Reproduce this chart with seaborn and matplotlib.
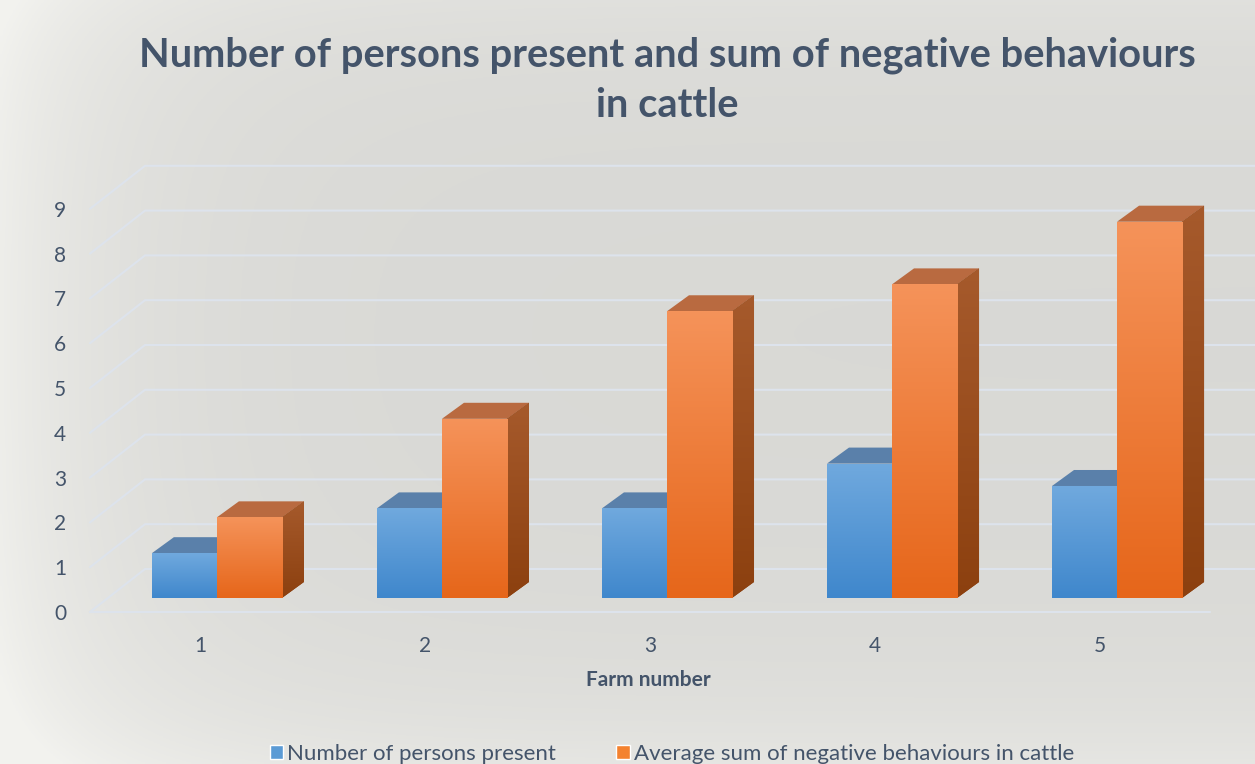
import numpy as np
import pandas as pd
import matplotlib
matplotlib.use("Agg")
import matplotlib.pyplot as plt
import seaborn as sns
from matplotlib.patches import Polygon, Patch
from matplotlib.colors import LinearSegmentedColormap

# ---------------- data ----------------
farms = ["1", "2", "3", "4", "5"]
persons_present = [1, 2, 2, 3, 2.5]
negative_behaviours = [1.8, 4.0, 6.4, 7.0, 8.4]
series_names = ["Number of persons present",
                "Average sum of negative behaviours in cattle"]
y_tick_values = list(range(10))
title = "Number of persons present and sum of negative behaviours\nin cattle"
x_label = "Farm number"

# ---------------- style ----------------
W, H, DPI = 1255, 764, 100
BLUE, ORANGE = "#5b9bd5", "#f4822f"
TEXT = "#44546a"
GRID = "#dde3ec"
front_grad = {BLUE: ("#3f87cc", "#70a9de"), ORANGE: ("#e6661a", "#f5935a")}
side_grad = {BLUE: ("#2f5f90", "#46719c"), ORANGE: ("#8c400f", "#a65a2c")}
top_col = {BLUE: "#5a80aa", ORANGE: "#b96a40"}

sns.set_theme(style="white")
plt.rcParams['font.family'] = ['Lato', 'DejaVu Sans']

fig = plt.figure(figsize=(W / DPI, H / DPI), dpi=DPI)

# background (paper-like grey)
bg = fig.add_axes([0, 0, 1, 1], zorder=-10)
xx = np.linspace(0, 1, 400)
yy = np.linspace(0, 1, 300)
X, Y = np.meshgrid(xx, yy)
v = 0.85 + 0.08 * np.exp(-X / 0.1) + 0.05 * np.exp(-(1 - Y) / 0.12) + 0.03 * np.exp(-Y / 0.1)
v = np.clip(v, 0, 0.95)
img = np.dstack([v, v, v * 0.985])
bg.imshow(img, extent=[0, 1, 0, 1], aspect="auto", origin="upper")
bg.axis("off")

# main axes
ax_left, ax_right = 90, 1255
ax_top, ax_bottom = 150, 625
ax = fig.add_axes([ax_left / W, 1 - ax_bottom / H, (ax_right - ax_left) / W, (ax_bottom - ax_top) / H])
ax.set_facecolor("none")

df = pd.DataFrame({
    "Farm": farms * 2,
    "value": persons_present + negative_behaviours,
    "series": [series_names[0]] * len(farms) + [series_names[1]] * len(farms),
})
sns.barplot(data=df, x="Farm", y="value", hue="series", palette=[BLUE, ORANGE],
            width=0.578, saturation=1, errorbar=None, legend=False, ax=ax,
            linewidth=0, zorder=3)

XLIM = (-0.564, 4.613)
YLIM = (-0.603, 10.0)
px_x = (ax_right - ax_left) / (XLIM[1] - XLIM[0])
px_y = (ax_bottom - ax_top) / (YLIM[1] - YLIM[0])
ddx, ddy = 22 / px_x, 16 / px_y


def grad_fill(patch, c_bottom, c_top, extent, z):
    cmap = LinearSegmentedColormap.from_list("g", [c_bottom, c_top])
    im = ax.imshow(np.linspace(0, 1, 256).reshape(-1, 1), extent=extent, origin="lower",
                   cmap=cmap, aspect="auto", zorder=z)
    im.set_clip_path(patch)


bars = list(ax.patches)
for i, p in enumerate(bars):
    col = BLUE if i < len(farms) else ORANGE
    x, w, h = p.get_x(), p.get_width(), p.get_height()
    # top face
    top = Polygon([(x, h), (x + ddx, h + ddy), (x + w + ddx, h + ddy), (x + w, h)],
                  closed=True, facecolor=top_col[col], edgecolor="none", zorder=2)
    ax.add_patch(top)
    # side face
    side = Polygon([(x + w, 0), (x + w + ddx, ddy), (x + w + ddx, h + ddy), (x + w, h)],
                   closed=True, facecolor=side_grad[col][0], edgecolor="none", zorder=2)
    ax.add_patch(side)
    grad_fill(side, side_grad[col][0], side_grad[col][1], [x + w, x + w + ddx, 0, h + ddy], 2)
    # front face gradient
    grad_fill(p, front_grad[col][0], front_grad[col][1], [x, x + w, 0, h], 3)

# back wall / floor grid lines
front_off = 14 / px_y
back_off = (598 - 569) / px_y
trans = ax.get_yaxis_transform()
bx = 55 / (ax_right - ax_left)
for val in y_tick_values:
    xs = [0, bx, 1.0]
    ys = [val - front_off, val + back_off, val + back_off]
    ax.plot(xs, ys, color=GRID, lw=1.5, transform=trans, zorder=1, clip_on=False)
ax.plot([0, (1210 - ax_left) / (ax_right - ax_left)], [-front_off, -front_off],
        color=GRID, lw=1.5, transform=trans, zorder=1, clip_on=False)

ax.set_xlim(*XLIM)
ax.set_ylim(*YLIM)
ax.set_yticks([val - front_off for val in y_tick_values], labels=[str(val) for val in y_tick_values])
ax.set_xticks(np.arange(len(farms)) - 17 / px_x, labels=farms)
ax.tick_params(axis="y", length=0, pad=17, labelsize=15, labelcolor=TEXT)
ax.tick_params(axis="x", length=0, pad=8, labelsize=15, labelcolor=TEXT)
ax.set_xlabel("")
ax.set_ylabel("")
for s in ax.spines.values():
    s.set_visible(False)

fig.text(648 / W, 1 - 680 / H, x_label, ha="center", va="center", fontsize=15,
         fontweight="bold", color=TEXT)
fig.text(667 / W, 1 - 80 / H, title, ha="center", va="center", fontsize=28.7,
         fontweight="bold", color=TEXT, linespacing=1.42)

handles = [Patch(facecolor=BLUE), Patch(facecolor=ORANGE)]
fig.legend(handles, series_names, loc="center", bbox_to_anchor=(672 / W, 10 / H), ncol=2,
           frameon=False, fontsize=16, handlelength=0.6, handleheight=0.6,
           handletextpad=0.2, columnspacing=2.7, labelcolor=TEXT)

fig.savefig("out.png", dpi=DPI)
